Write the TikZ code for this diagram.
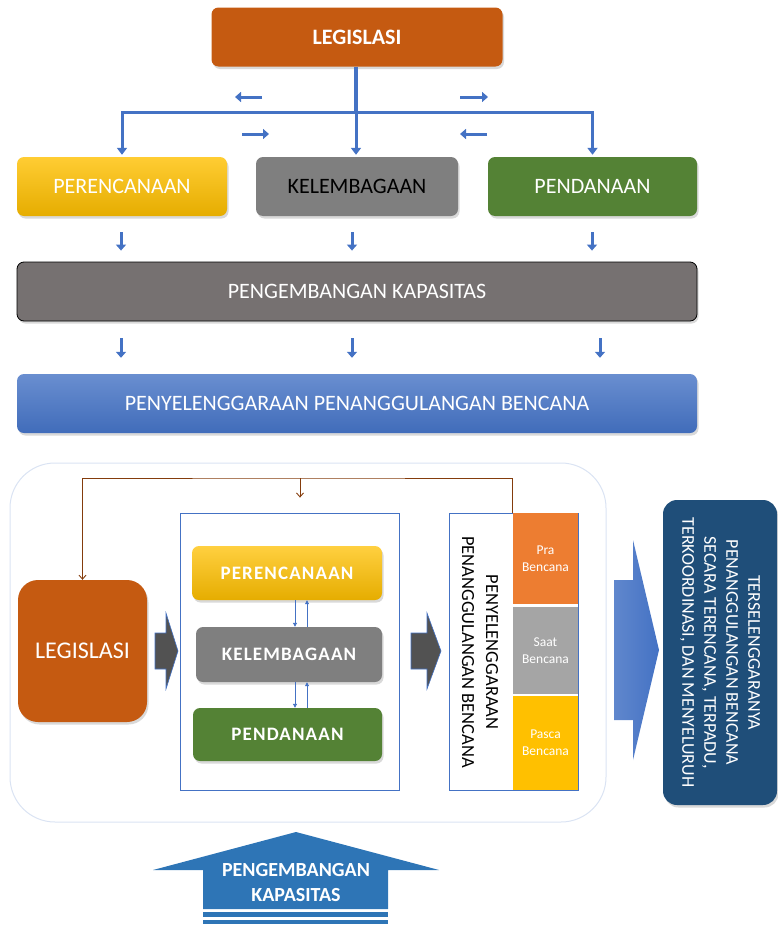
\documentclass[tikz,border=0pt]{standalone}
\usepackage{fontspec}
\setmainfont{Carlito}
\usetikzlibrary{arrows.meta,positioning,calc,shadows}

\definecolor{bata}{HTML}{C55A11}
\definecolor{biru}{HTML}{4472C4}
\definecolor{kuning}{HTML}{FFC000}
\definecolor{hijau}{HTML}{548235}
\definecolor{abu}{HTML}{7F7F7F}
\definecolor{abutua}{HTML}{767171}
\definecolor{coklat}{HTML}{843C0C}
\definecolor{jingga}{HTML}{ED7D31}
\definecolor{abumuda}{HTML}{A5A5A5}
\definecolor{birutua}{HTML}{1F4E79}
\definecolor{birukap}{HTML}{2E75B6}
\definecolor{bingkai}{HTML}{DAE3F3}

\begin{document}
\begin{tikzpicture}[x=1pt,y=-1pt,
  bayang/.style={drop shadow={opacity=0.3,shadow xshift=1.5pt,shadow yshift=-2.5pt}},
  kotak/.style={rounded corners=7pt, minimum height=59pt, inner sep=0pt, text=white,
    font=\fontsize{22}{24}\selectfont, bayang},
  kotakB/.style={rounded corners=7pt, minimum height=54pt, inner sep=0pt, text=white,
    font=\fontsize{19}{22}\selectfont\bfseries\addfontfeatures{LetterSpace=6}, bayang},
  tahap/.style={minimum width=65pt, inner sep=0pt, text=white, align=center,
    font=\fontsize{13.5}{17}\selectfont},
  batang/.style={biru, line width=3.2pt},
  panah/.style={biru, line width=3pt, -{Triangle[length=7pt,width=10pt]}},
  celah/.style={biru, line width=3pt, -{Triangle[length=6pt,width=10pt]}},
  duo/.style={biru, line width=0.9pt, -{Triangle[length=4pt,width=4pt]}},
  jalur/.style={coklat, line width=0.9pt},
  blok/.style={fill=black!68, draw=biru, line width=0.6pt}
]
\useasboundingbox (0,0) rectangle (777,926);

% ---- bagian atas
\node[kotak, fill=bata, minimum width=291pt, font=\fontsize{22}{24}\selectfont\bfseries] (legis) at (357,37) {LEGISLASI};
\node[kotak, top color=kuning!80!white, bottom color=kuning!90!black, minimum width=210pt] (renc) at (122,186.5) {PERENCANAAN};
\node[kotak, fill=abu, minimum width=202pt, text=black] (lemb) at (357,186.5) {KELEMBAGAAN};
\node[kotak, fill=hijau, minimum width=209pt] (dana) at (592.5,186.5) {PENDANAAN};
\node[kotak, fill=abutua, draw=black, line width=0.8pt, minimum width=680pt] (kapas) at (357,291.5) {PENGEMBANGAN KAPASITAS};
\node[kotak, top color=biru!80!white, bottom color=biru!95!black, minimum width=680pt] (selenggara) at (357,403.5) {PENYELENGGARAAN PENANGGULANGAN BENCANA};

\coordinate (hub) at (356,112);
\draw[batang] (legis.south -| hub) -- (hub);
\draw[panah] (hub) -| ([yshift=2pt]renc.north);
\draw[panah] (hub) -- ([yshift=2pt]lemb.north -| hub);
\draw[panah] (hub) -| ([yshift=2pt]dana.north);

% panah kecil di sekitar cabang
\coordinate (kiri1) at (262,97);  \coordinate (kiri1u) at (235,97);
\coordinate (kanan1) at (460,97); \coordinate (kanan1u) at (488,97);
\coordinate (kiri2) at (242,134); \coordinate (kiri2u) at (269,134);
\coordinate (kanan2) at (487,134); \coordinate (kanan2u) at (460,134);
\draw[celah] (kiri1) -- (kiri1u);
\draw[celah] (kanan1) -- (kanan1u);
\draw[celah] (kiri2) -- (kiri2u);
\draw[celah] (kanan2) -- (kanan2u);

\coordinate (xa) at (121,0); \coordinate (xb) at (352,0);
\coordinate (xc) at (592,0); \coordinate (xd) at (600,0);
\foreach \a/\b/\x in {renc/kapas/xa, lemb/kapas/xb, dana/kapas/xc}
  \draw[celah, shorten <=16pt, shorten >=11pt] (\a.south -| \x) -- (\b.north -| \x);
\foreach \x in {xa, xb, xd}
  \draw[celah, shorten <=17pt, shorten >=16pt] (kapas.south -| \x) -- (selenggara.north -| \x);

% ---- bagian bawah
\draw[bingkai, line width=1pt, rounded corners=45pt] (10,463) rectangle (606,822);

\node[rounded corners=20pt, fill=bata, minimum width=129pt, minimum height=142pt, text=white,
  font=\fontsize{24}{26}\selectfont, bayang] (legisB) at (82.5,651) {LEGISLASI};

\node[draw=biru, line width=0.8pt, minimum width=219pt, minimum height=277pt] (fungsi) at (289.5,651.5) {};
\node[kotakB, top color=kuning!75!white, bottom color=kuning!90!black, minimum width=190pt] (rencB) at (287,573) {PERENCANAAN};
\node[kotakB, fill=abu, minimum width=186pt, minimum height=55pt] (lembB) at (289,654.5) {KELEMBAGAAN};
\node[kotakB, fill=hijau, minimum width=189pt, minimum height=53pt] (danaB) at (287.5,734.5) {PENDANAAN};

\coordinate (turun) at (295,0); \coordinate (naik) at (307,0);
\draw[duo] (rencB.south -| turun) -- (lembB.north -| turun);
\draw[duo] (lembB.north -| naik) -- (rencB.south -| naik);
\draw[duo] (lembB.south -| turun) -- (danaB.north -| turun);
\draw[duo] (danaB.north -| naik) -- (lembB.south -| naik);

\node[draw=biru, fill=white, line width=0.8pt, minimum width=129pt, minimum height=277pt] (tahapan) at (513.5,651.5) {};
\node[rotate=-90, align=center, font=\fontsize{18.5}{24}\selectfont] (judulT) at (480,652) {PENYELENGGARAAN\\PENANGGULANGAN BENCANA};
\node[tahap, fill=jingga, minimum height=91pt] (pra) at (545.5,558.5) {Pra\\Bencana};
\node[tahap, fill=abumuda, minimum height=87pt] (saat) at (545.5,650.5) {Saat\\Bencana};
\node[tahap, fill=kuning, minimum height=94pt] (pasca) at (545.5,743) {Pasca\\Bencana};

% jalur umpan balik
\coordinate (simpang) at (300,478);
\draw[jalur, -{Straight Barb[length=4pt,width=7pt]}] (pra.north west) |- (simpang) -| (legisB.north);
\draw[jalur, shorten >=15pt, -{Straight Barb[length=4pt,width=7pt]}] (simpang) -- (fungsi.north -| simpang);

% panah blok
\filldraw[blok] (155,633) -- (166,633) -- (166,613) -- (178,651) -- (166,689) -- (166,669) -- (155,669) -- cycle;
\filldraw[blok] (411,633) -- (427,633) -- (427,613) -- (441,651) -- (427,689) -- (427,669) -- (411,669) -- cycle;
\shade[left color=biru!85!white, right color=biru] (614,580) -- (633,580) -- (633,540) -- (659,650) -- (633,760) -- (633,720) -- (614,720) -- cycle;

\node[rounded corners=14pt, fill=birutua, minimum width=114pt, minimum height=305pt, bayang] (hasil) at (720,652.5) {};
\node[rotate=-90, align=center, text=white, font=\fontsize{18}{22}\selectfont] (hasilT) at (720,652.5)
  {TERSELENGGARANYA\\PENANGGULANGAN BENCANA\\SECARA TERENCANA, TERPADU,\\TERKOORDINASI, DAN MENYELURUH};

% panah pengembangan kapasitas
\fill[birukap] (296,832) -- (439,870) -- (388,870) -- (388,909) -- (203,909) -- (203,870) -- (153,870) -- cycle;
\fill[birukap] (203,912) rectangle (388,917);
\fill[birukap] (203,920) rectangle (388,924);
\node[align=center, text=white, font=\fontsize{20}{25}\selectfont\bfseries] (kapasB) at (296,882) {PENGEMBANGAN\\KAPASITAS};
\end{tikzpicture}
\end{document}
